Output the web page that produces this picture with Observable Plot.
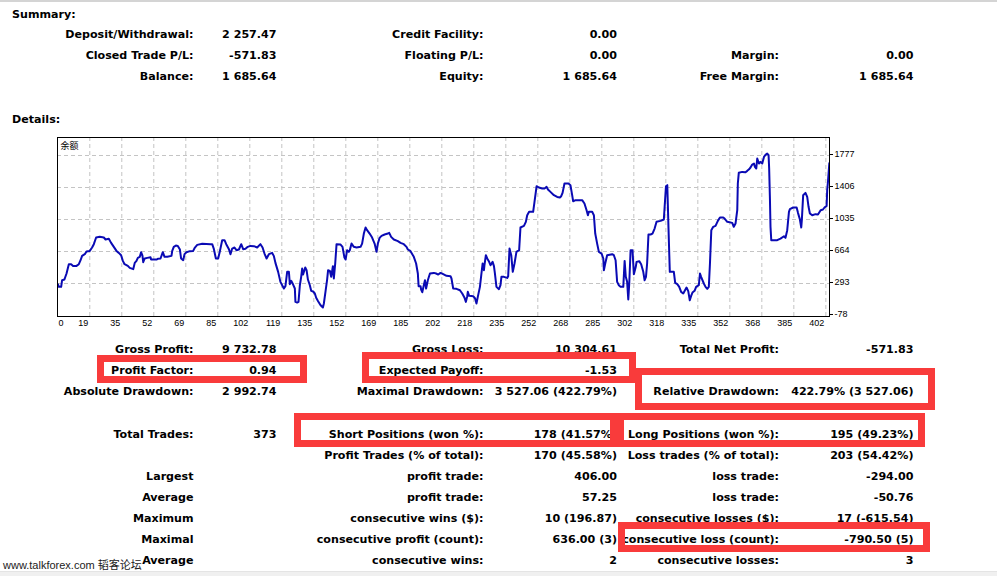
<!DOCTYPE html>
<html>
<head>
<meta charset="utf-8">
<script src="https://cdn.jsdelivr.net/npm/d3@7"></script>
<script src="https://cdn.jsdelivr.net/npm/@observablehq/plot@0.6"></script>
<style>
  html, body { margin: 0; padding: 0; background: #fff; }
  #page { position: relative; width: 997px; height: 576px; overflow: hidden; background: #fff; }
  #chart { position: absolute; left: 0; top: 0; }
  .t { position: absolute; height: 14px; line-height: 14px; white-space: nowrap;
       font-family: "DejaVu Sans", sans-serif; font-weight: bold; font-size: 11.1px; color: #000; }
  .box { position: absolute; box-sizing: border-box; border: 7px solid #f93b3b; }
</style>
</head>
<body>
<div id="page">
  <div id="chart"></div>
</div>
<script>
// ---------------- data ----------------
const chartTitle = "余额";

// balance curve: [trade number, balance]
const balanceByTrade = [
[2.4,285],[2.9,254],[4.1,254],[4.6,331],[5.8,339],[6.9,409],[8.1,517],[9.3,517],[10.3,497],[12.1,497],[13.3,517],[14.2,563],[15.0,613],[16.4,633],[17.3,664],[19.0,671],[20.2,710],[21.1,749],[22.3,826],[24.2,834],[26.3,826],[27.2,803],[28.9,811],[30.1,764],[31.5,718],[32.9,671],[34.1,648],[35.3,621],[36.2,555],[37.1,517],[38.8,497],[39.8,474],[41.6,459],[42.4,532],[43.3,555],[44.0,590],[45.0,602],[45.7,656],[46.4,617],[46.8,540],[47.6,583],[48.9,590],[50.6,598],[50.9,571],[53.7,571],[54.4,579],[55.8,583],[57.0,656],[57.9,602],[59.3,602],[61.5,613],[61.9,671],[62.7,718],[63.8,733],[64.8,729],[65.9,687],[66.5,583],[67.6,563],[68.3,633],[69.3,656],[71.1,668],[72.8,671],[73.7,710],[74.9,741],[77.5,753],[81.8,749],[82.7,749],[83.5,698],[84.6,583],[85.8,583],[86.7,668],[87.9,795],[89.1,795],[90.0,749],[91.4,691],[92.2,633],[93.1,698],[94.3,710],[95.3,679],[96.6,687],[97.8,749],[98.8,691],[100.0,695],[101.2,718],[102.6,729],[104.4,726],[106.1,710],[107.8,749],[108.9,710],[109.9,640],[111.0,583],[112.2,633],[113.9,648],[114.8,610],[115.6,532],[117.0,428],[118.2,312],[120.0,235],[120.8,262],[121.7,428],[122.6,428],[123.1,285],[123.8,324],[124.8,281],[125.7,235],[126.0,80],[126.9,72],[127.6,80],[128.3,270],[129.0,370],[129.5,467],[130.0,397],[131.1,478],[131.8,447],[132.5,339],[133.5,273],[134.2,208],[135.2,200],[136.1,177],[136.8,127],[137.8,88],[139.1,41],[140.3,14],[140.8,61],[141.7,208],[142.5,339],[143.0,447],[143.9,440],[144.6,370],[145.5,494],[146.0,351],[146.7,525],[147.4,749],[149.5,745],[150.5,718],[151.5,594],[152.1,571],[152.9,679],[153.8,660],[154.3,679],[155.2,756],[156.4,718],[157.8,710],[159.9,718],[160.7,756],[161.6,872],[162.5,942],[163.3,911],[164.6,872],[165.9,826],[167.2,756],[168.2,660],[168.9,756],[169.8,822],[170.8,845],[172.4,861],[174.1,872],[174.8,880],[175.8,834],[177.2,803],[179.3,784],[180.7,764],[182.4,749],[183.8,718],[184.5,687],[185.9,668],[187.6,602],[188.8,525],[189.7,409],[190.1,262],[191.1,262],[191.4,223],[192.0,192],[192.8,273],[193.4,331],[194.0,235],[194.9,331],[196.0,409],[198.0,416],[199.2,409],[200.3,397],[201.5,416],[202.9,401],[204.6,382],[206.7,378],
[207.2,351],[208.1,235],[209.8,231],[211.6,215],[212.8,177],[214.0,127],[214.7,80],[215.4,146],[215.7,196],[216.4,150],[218.5,146],[219.5,119],[220.2,61],[220.9,138],[222.0,254],[222.7,389],[223.4,525],[224.1,447],[224.4,513],[225.1,621],[225.8,583],[226.8,544],[227.5,505],[228.6,544],[229.3,494],[229.8,409],[230.6,254],[231.9,227],[232.7,273],[233.2,370],[234.5,370],[236.2,358],[236.7,378],[237.4,698],[238.3,621],[239.1,428],[240.0,525],[241.0,660],[242.4,679],[243.1,942],[244.9,961],[245.9,1008],[246.6,1085],[247.6,1124],[249.7,1124],[250.4,1240],[251.5,1421],[252.7,1406],[254.4,1394],[255.6,1394],[256.7,1413],[257.4,1383],[258.7,1355],[260.5,1317],[262.2,1297],[263.6,1290],[264.3,1305],[265.0,1344],[266.0,1452],[268.1,1452],[269.1,1433],[270.0,1317],[270.5,1247],[271.8,1259],[275.2,1259],[276.4,1220],[277.5,1143],[278.2,1085],[278.7,1124],[280.4,1124],[281.3,1085],[282.0,872],[283.0,756],[283.9,660],[285.3,640],[286.2,583],[286.5,447],[287.2,525],[288.2,621],[290.8,633],[291.7,621],[292.6,563],[293.4,312],[294.3,273],[295.2,254],[296.6,254],[297.3,555],[297.9,370],[298.6,312],[299.2,107],[299.7,293],[300.4,679],[301.4,679],[302.1,401],[303.1,486],[303.5,544],[304.9,552],[305.9,517],[307.0,428],[307.7,331],[308.4,370],[309.0,525],[309.7,861],[310.8,861],[311.8,872],[312.9,930],[313.9,1008],[316.0,1019],[317.7,1035],[318.8,1421],[319.5,1433],[320.1,950],[320.8,428],[322.9,428],[323.6,300],[324.7,285],[325.7,254],[326.7,196],[327.8,177],[329.5,246],[330.4,204],[331.2,99],[331.9,150],[332.6,188],[333.7,208],[334.5,254],[335.9,273],[336.5,409],[337.1,370],[338.5,293],[339.4,254],[340.3,231],[341.1,254],[341.7,525],[342.4,911],[343.4,950],[344.6,961],[345.8,1019],[346.9,1058],[348.6,1058],[349.3,1046],[350.7,1008],[353.3,996],[354.1,950],[355.0,988],[355.9,1143],[356.2,1452],[356.7,1576],[358.5,1587],[360.2,1583],[361.1,1599],[361.9,1614],[362.8,1638],[363.7,1672],[364.6,1684],[365.1,1645],[365.8,1626],[366.3,1742],[367.2,1684],[368.0,1703],[368.9,1684],[369.8,1761],[370.6,1784],[371.5,1800],[372.2,1781],[372.5,1626],[372.9,1278],[373.2,950],[373.6,795],[375.0,795],[376.7,795],[378.4,814],[380.2,841],[381.0,822],[381.9,911],[382.8,1124],[383.3,1155],[385.0,1174],[386.8,1174],[387.5,1112],[388.5,1035],[389.2,942],[389.5,1027],[390.2,1317],[391.4,1344],[392.3,1297],[393.0,1182],[393.7,1104],[394.9,1085],[396.6,1097],[397.9,1093],[399.3,1143],[400.5,1151],[401.3,1174],[402.4,1193],[402.7,1375],[403.1,1471],[403.8,1686]
];

// x gridline positions (trade numbers) and their printed labels
const xGridTrades = [19, 35.65, 52.3, 68.96, 85.61, 102.26, 118.91, 135.56, 152.22, 168.87, 185.52, 202.17,
  218.82, 235.48, 252.13, 268.78, 285.43, 302.08, 318.74, 335.39, 352.04, 368.69, 385.34, 402];
const xGridLabels = ["19","35","52","69","85","102","119","135","152","169","185","202",
  "218","235","252","268","285","302","318","335","352","368","385","402"];
const xFirstLabel = "0";
const yTicks = [-78, 293, 664, 1035, 1406, 1777];

// summary / details table text
const summaryTitle = "Summary:";
const detailsTitle = "Details:";
const summaryRows = [
  ["Deposit/Withdrawal:", "2 257.47", "Credit Facility:", "0.00", "", ""],
  ["Closed Trade P/L:", "-571.83", "Floating P/L:", "0.00", "Margin:", "0.00"],
  ["Balance:", "1 685.64", "Equity:", "1 685.64", "Free Margin:", "1 685.64"]
];
const detailRowsTop = [
  ["Gross Profit:", "9 732.78", "Gross Loss:", "10 304.61", "Total Net Profit:", "-571.83"],
  ["Profit Factor:", "0.94", "Expected Payoff:", "-1.53", "", ""],
  ["Absolute Drawdown:", "2 992.74", "Maximal Drawdown:", "3 527.06 (422.79%)", "Relative Drawdown:", "422.79% (3 527.06)"]
];
const detailRowsBottom = [
  ["Total Trades:", "373", "Short Positions (won %):", "178 (41.57%)", "Long Positions (won %):", "195 (49.23%)"],
  ["", "", "Profit Trades (% of total):", "170 (45.58%)", "Loss trades (% of total):", "203 (54.42%)"],
  ["Largest", "", "profit trade:", "406.00", "loss trade:", "-294.00"],
  ["Average", "", "profit trade:", "57.25", "loss trade:", "-50.76"],
  ["Maximum", "", "consecutive wins ($):", "10 (196.87)", "consecutive losses ($):", "17 (-615.54)"],
  ["Maximal", "", "consecutive profit (count):", "636.00 (3)", "consecutive loss (count):", "-790.50 (5)"],
  ["Average", "", "consecutive wins:", "2", "consecutive losses:", "3"]
];
const watermark = "www.talkforex.com 韬客论坛";

// ---------------- chart ----------------
const table = balanceByTrade.map(([trade, balance]) => ({trade, balance}));
const xLabelOf = new Map(xGridTrades.map((t, i) => [t, xGridLabels[i]]));
const xStart = 2.2, xEnd = 403.9;

const chart = Plot.plot({
  width: 997,
  height: 340,
  marginLeft: 57,
  marginRight: 168,
  marginTop: 137,
  marginBottom: 24,
  x: {type: "linear", domain: [xStart, xEnd], axis: null, label: null},
  y: {type: "linear", domain: [-89.6, 1985.7], axis: null, label: null},
  style: {fontFamily: "'Liberation Sans', Arial, sans-serif", fontSize: "9px", color: "#000", background: "transparent", overflow: "visible"},
  marks: [
    Plot.gridX(xGridTrades, {stroke: "#c4c4c4", strokeOpacity: 1, strokeDasharray: "4,3"}),
    Plot.gridY(yTicks.slice(1), {stroke: "#c4c4c4", strokeOpacity: 1, strokeDasharray: "4,3"}),
    Plot.line(table, {x: "trade", y: "balance", stroke: "#0a0ab4", strokeWidth: 2, clip: true}),
    Plot.frame({stroke: "#000"}),
    Plot.axisX(xGridTrades, {label: null, tickFormat: d => xLabelOf.get(d), tickSize: 0, tickPadding: 3, textAnchor: "end", dx: -1.5}),
    Plot.axisX([xStart], {label: null, tickFormat: () => xFirstLabel, tickSize: 0, tickPadding: 3, textAnchor: "start", dx: 1}),
    Plot.axisY(yTicks, {label: null, anchor: "right", tickSize: 3, tickPadding: 2, dy: -1, tickFormat: d => String(d)}),
    Plot.text([chartTitle], {frameAnchor: "top-left", dx: 3, dy: 5, text: d => d, lineAnchor: "top",
      fontFamily: "'Noto Sans CJK SC', sans-serif", fontSize: 9, fill: "#000"})
  ]
});
document.getElementById("chart").appendChild(chart);

// ---------------- report text ----------------
const page = document.getElementById("page");
const PAGE_W = 997;
const colRight = [193.5, 276.5, 483.5, 617, 779, 913.5];

function addText(txt, cy, {right = null, left = null, cls = "t", style = ""} = {}) {
  if (!txt) return;
  const d = document.createElement("div");
  d.className = cls;
  d.textContent = txt;
  let css = `top:${cy - 7}px;`;
  if (right !== null) css += `right:${PAGE_W - right}px;text-align:right;`;
  if (left !== null) css += `left:${left}px;`;
  d.style.cssText = css + style;
  page.appendChild(d);
}
function addRows(rows, cy0, step) {
  rows.forEach((row, r) => row.forEach((cell, c) => addText(cell, cy0 + r * step, {right: colRight[c]})));
}

// top rule and bottom strip
const topRule = document.createElement("div");
topRule.style.cssText = "position:absolute;left:0;top:0;width:997px;height:2px;background:#d4d4d4;";
page.appendChild(topRule);
const bottomStrip = document.createElement("div");
bottomStrip.style.cssText = "position:absolute;left:0;top:571px;width:997px;height:5px;background:#f0f0f0;border-top:1px solid #e4e4e4;";
page.appendChild(bottomStrip);

addText(summaryTitle, 14.5, {left: 12});
addRows(summaryRows, 34.5, 21);
addText(detailsTitle, 120, {left: 12});
addRows(detailRowsTop, 349.5, 21);
addRows(detailRowsBottom, 434.5, 21);

// red highlight boxes (annotation overlay)
[
  [97.3, 355, 306.7, 383.3],
  [362.3, 352.3, 636, 382.7],
  [635, 367.7, 935.3, 410],
  [294, 412.7, 617.3, 447.5],
  [617.3, 412.7, 925, 447.5],
  [618.3, 521.7, 930, 551.7]
].forEach(([x0, y0, x1, y1]) => {
  const b = document.createElement("div");
  b.className = "box";
  b.style.cssText = `left:${x0}px;top:${y0}px;width:${x1 - x0}px;height:${y1 - y0}px;`;
  page.appendChild(b);
});

addText(watermark, 565, {left: 3, style: "font-family:'Liberation Sans','Noto Sans CJK SC',sans-serif;font-weight:normal;font-size:11px;color:#222;"});
</script>
</body>
</html>
